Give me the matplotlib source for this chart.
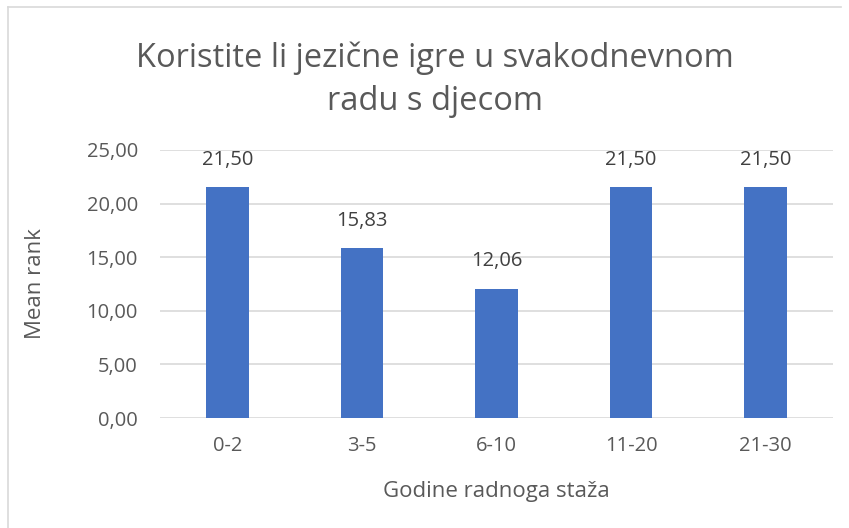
import matplotlib.pyplot as plt
from matplotlib.lines import Line2D

# Podaci
kategorije = ["0-2", "3-5", "6-10", "11-20", "21-30"]
mean_rank = [21.50, 15.83, 12.06, 21.50, 21.50]
y_ticks = [0, 5, 10, 15, 20, 25]

plt.rcParams["font.family"] = ["Open Sans", "DejaVu Sans"]
siva = "#595959"

fig = plt.figure(figsize=(8.49, 5.28), dpi=100)
ax = fig.add_axes([0.1885, 0.2083, 0.7925, 0.5077])

x = range(len(kategorije))
ax.bar(x, mean_rank, width=0.315, color="#4472C4", zorder=3)

# Oznake vrijednosti iznad stupaca
for xi, v in zip(x, mean_rank):
    ax.annotate(f"{v:.2f}".replace(".", ","), (xi, v), xytext=(0, 20),
                textcoords="offset points", ha="center", va="center",
                fontsize=14.5, color="#404040")

ax.set_xlim(-0.5, len(kategorije) - 0.5)
ax.set_ylim(0, 25)
ax.set_yticks(y_ticks)
ax.set_yticklabels([f"{t:.2f}".replace(".", ",") for t in y_ticks])
ax.set_xticks(list(x))
ax.set_xticklabels(kategorije)
ax.tick_params(length=0, labelsize=14.5, labelcolor=siva)
ax.tick_params(axis="y", pad=16)
ax.tick_params(axis="x", pad=13)
ax.grid(axis="y", color="#d9d9d9", linewidth=1.2, zorder=0)
for s in ax.spines.values():
    s.set_visible(False)

ax.set_xlabel("Godine radnoga staža", fontsize=16, color=siva, labelpad=18)
ax.set_ylabel("Mean rank", fontsize=16, color=siva, labelpad=29)

fig.text(0.512, 0.849, "Koristite li jezične igre u svakodnevnom\nradu s djecom",
         ha="center", va="center", fontsize=23.5, color=siva, linespacing=1.42)

# Okvir grafikona
fig.add_artist(Line2D([0.0095, 0.0095], [0, 0.987], color="#d9d9d9", lw=1.2))
fig.add_artist(Line2D([0.0095, 0.99], [0.987, 0.987], color="#d9d9d9", lw=1.2))

fig.savefig("out.png", dpi=100)
